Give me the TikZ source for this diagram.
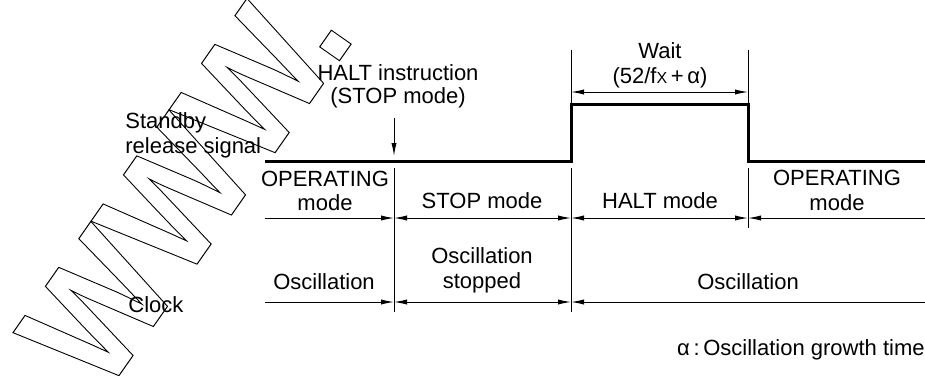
\documentclass[tikz,border=0pt]{standalone}
\usepackage{fontspec}
\setmainfont{Liberation Sans}
\usetikzlibrary{arrows.meta}

\begin{document}
\begin{tikzpicture}[x=0.5pt, y=-0.5pt, font=\fontsize{11}{12}\selectfont]
    \tikzstyle{modetext} = [inner sep=0pt, anchor=base]
    \tikzstyle{sigline} = [line width=1.5pt]
    \tikzstyle{divider} = [line width=0.5pt]
    \tikzstyle{dimline} = [line width=0.5pt, arrows={-Latex[length=6.5pt, width=2.6pt]}]
    \tikzstyle{dimboth} = [line width=0.5pt, arrows={Latex[length=6.5pt, width=2.6pt]-Latex[length=6.5pt, width=2.6pt]}]
    \useasboundingbox (0,0) rectangle (925,375);

    % Watermark
    \node [inner sep=0pt, anchor=base west, rotate=55, xscale=0.89, font=\fontsize{81}{81}\selectfont\bfseries] (wmark) at (104,397)
        {\special{pdf:literal direct 1 Tr 0.5 w}WWW.\special{pdf:literal direct 0 Tr}};

    % Time points
    \foreach \n/\x in {0/265,1/394,2/571,3/748,4/925} {
        \coordinate (t\n) at (\x,161);
        \coordinate (m\n) at (\x,218);
        \coordinate (c\n) at (\x,302);
    }
    \coordinate (h2) at (571,104);
    \coordinate (h3) at (748,104);
    \coordinate (w2) at (571,92);
    \coordinate (w3) at (748,92);

    % Standby release signal
    \draw [sigline] (t0) -- (t2) -- (h2) -- (h3) -- (t3) -- (t4);

    % Dividers
    \draw [divider] (571,50) -- (h2);
    \draw [divider] (748,50) -- (h3);
    \draw [divider] (394,168) -- (394,312);
    \draw [divider] (571,168) -- (571,312);
    \draw [divider] (748,168) -- (748,228);

    % Mode row
    \draw [dimline] (m0) -- (m1);
    \draw [dimboth] (m1) -- (m2);
    \draw [dimboth] (m2) -- (m3);
    \draw [dimline] (m4) -- (m3);

    % Clock row
    \draw [dimline] (c0) -- (c1);
    \draw [dimboth] (c1) -- (c2);
    \draw [dimline] (c4) -- (c2);

    % Wait
    \draw [dimboth] (w2) -- (w3);
    \node [modetext] (wait) at (660,58) {Wait};
    \node [modetext] (waittime) at (660,83) {(52/f{\fontsize{8}{8}\selectfont X}\,+\,α)};

    % HALT instruction
    \coordinate (hi) at (394,118);
    \draw [dimline] (hi) -- (394,156);
    \node [modetext] (halt_ins) at (398,80) {HALT instruction};
    \node [modetext] (halt_stop) at (398,103) {(STOP mode)};

    % Left labels
    \node [modetext, anchor=base west] (standby) at (125,128) {Standby};
    \node [modetext, anchor=base west] (release) at (125,153) {release signal};
    \node [modetext, anchor=base west] (clock) at (128,312) {Clock};

    % Modes
    \node [modetext] (op1) at (325,186) {OPERATING};
    \node [modetext] (op1m) at (325,210) {mode};
    \node [modetext] (stop) at (482,208) {STOP mode};
    \node [modetext] (halt) at (660,208) {HALT mode};
    \node [modetext] (op2) at (837,185) {OPERATING};
    \node [modetext] (op2m) at (837,210) {mode};

    % Clock states
    \node [modetext] (osc1) at (324,289) {Oscillation};
    \node [modetext] (osc2) at (482,263) {Oscillation};
    \node [modetext] (osc2s) at (482,288) {stopped};
    \node [modetext] (osc3) at (748,289) {Oscillation};

    % Note
    \node [modetext, anchor=base east] (note) at (925,355) {α\,:\,Oscillation growth time};
\end{tikzpicture}
\end{document}
